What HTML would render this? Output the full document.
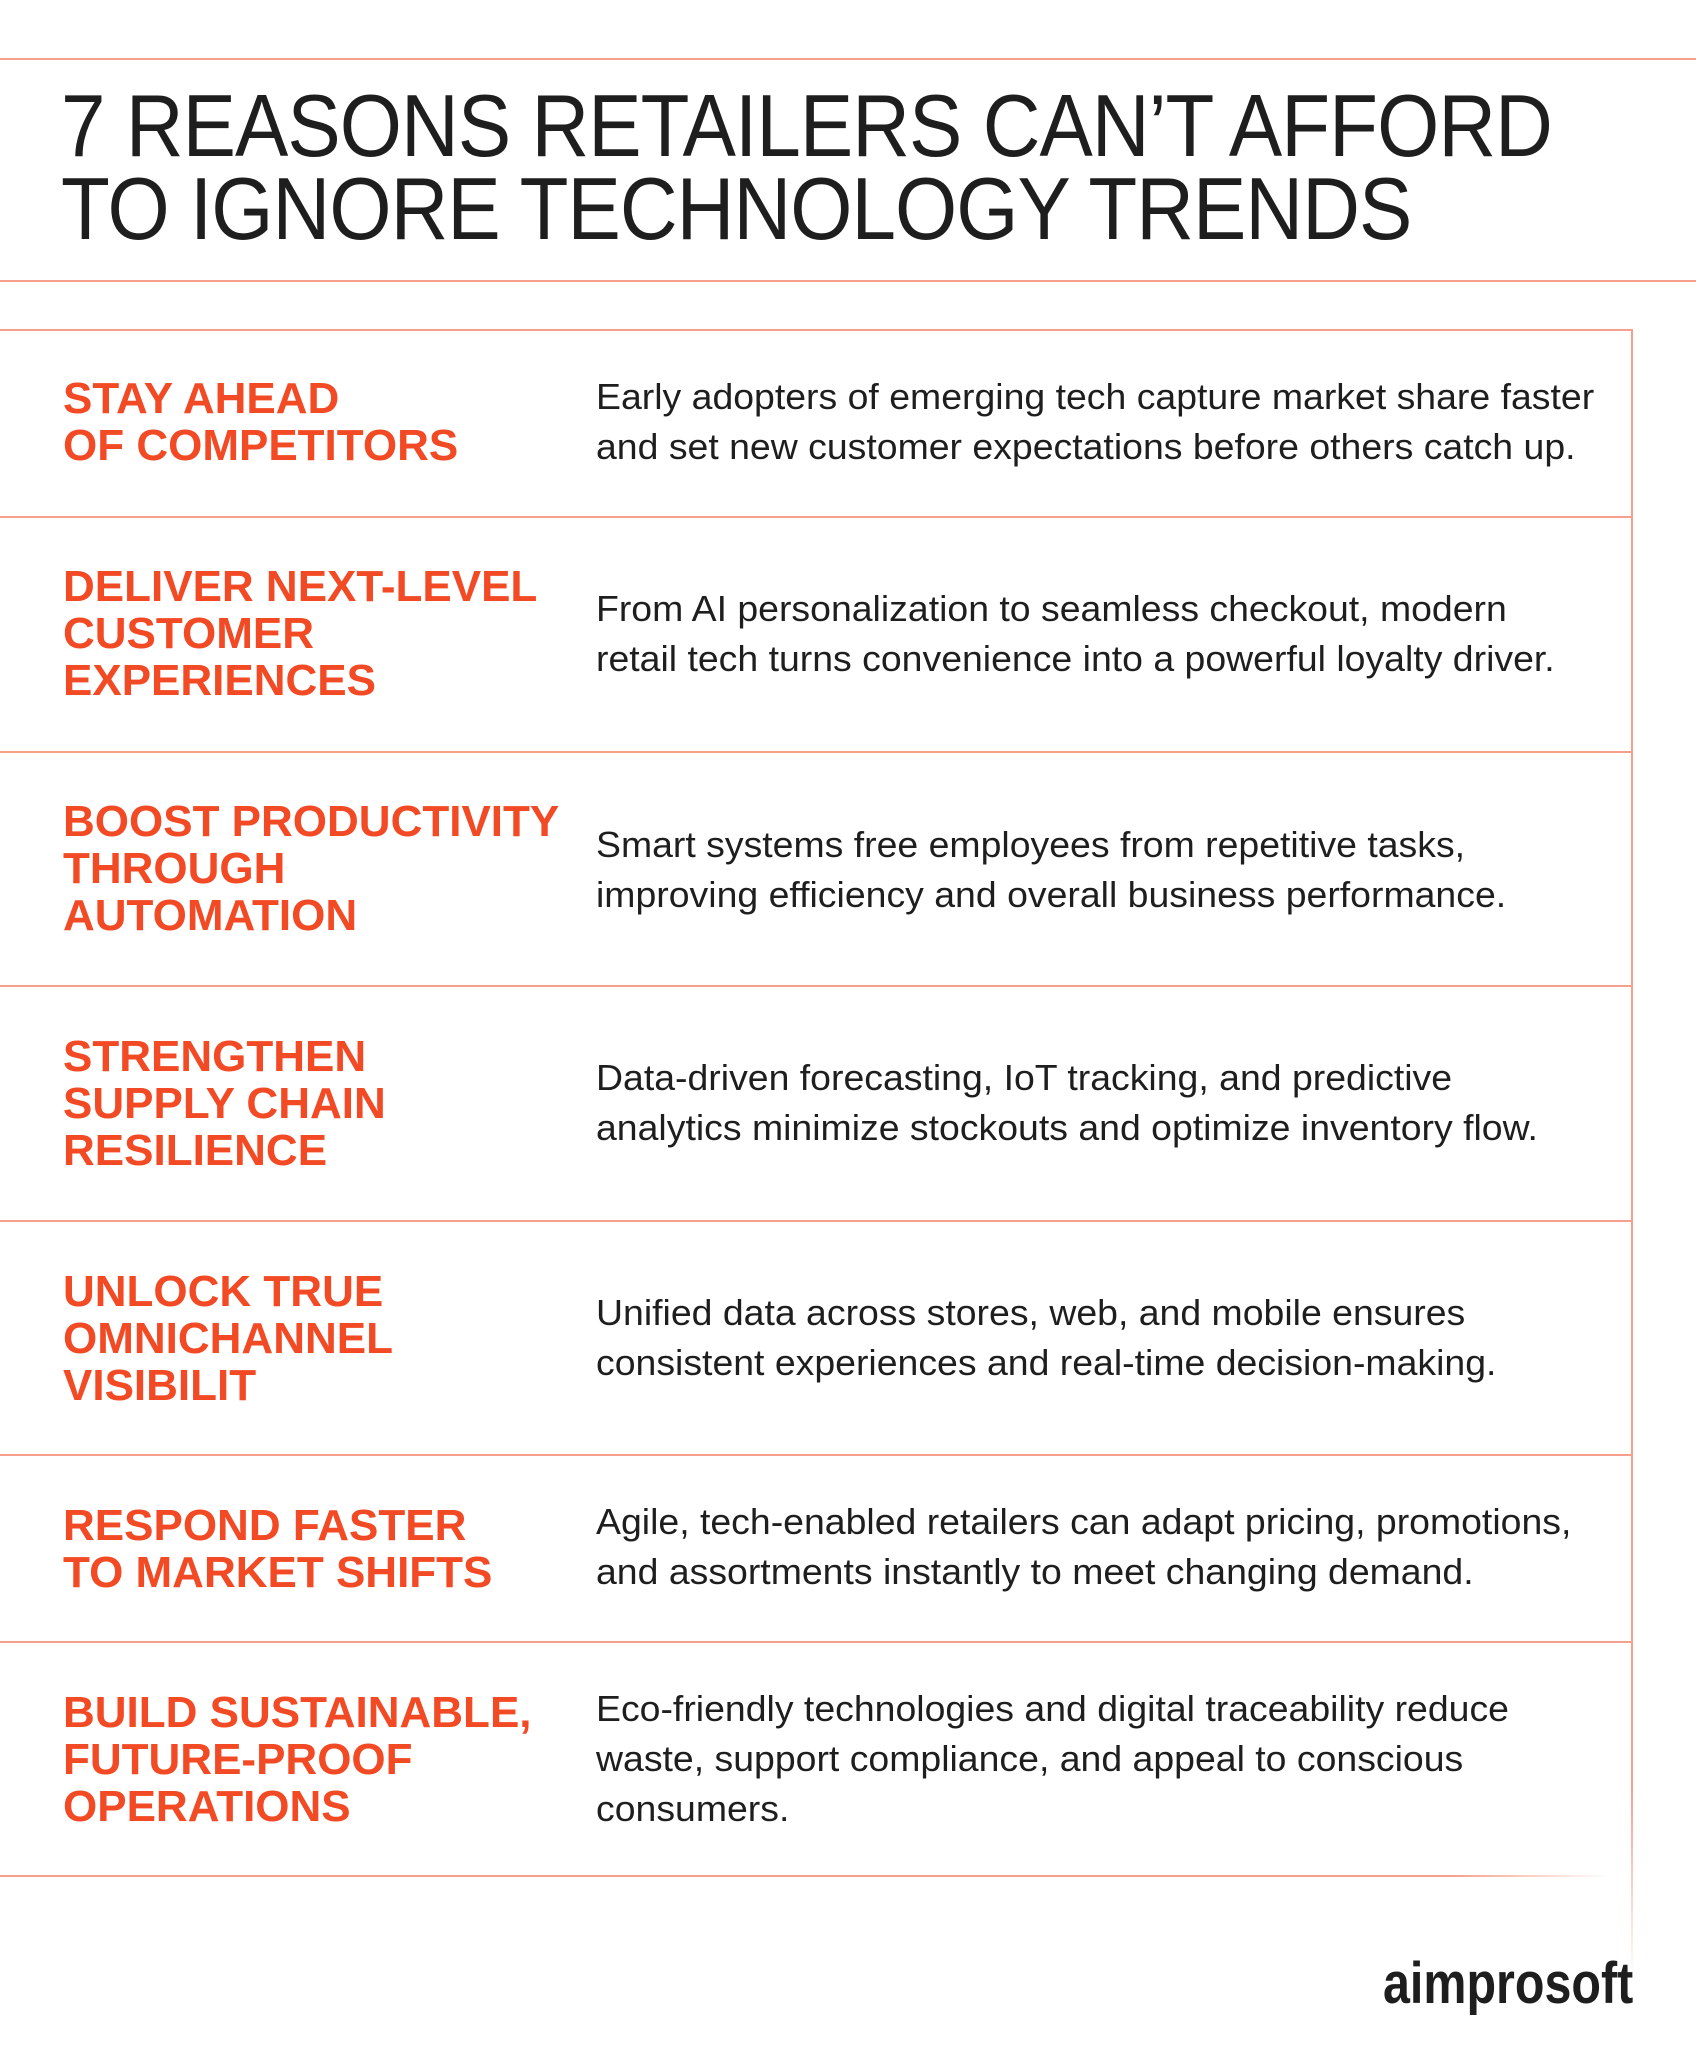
<!DOCTYPE html>
<html><head><meta charset="utf-8"><style>
body{margin:0;width:1696px;height:2063px;background:#fff;position:relative;overflow:hidden;font-family:"Liberation Sans",Arial,sans-serif}
.hl{position:absolute;left:0;height:2px;background:#f6a08c}
.title{position:absolute;left:61px;top:84px;font-size:88px;line-height:83px;color:#1e1e1e;letter-spacing:-1px;white-space:nowrap;transform:scaleX(0.908);transform-origin:left}
.h{position:absolute;left:63px;width:560px;color:#f24a24;font-weight:bold;font-size:44px;line-height:47px;white-space:nowrap}
.d{position:absolute;left:596px;color:#1e1e1e;font-size:36.5px;line-height:50px;white-space:nowrap;transform:scaleX(1.025);transform-origin:left}
.vr{position:absolute;left:1631px;top:330px;width:2px;height:1650px;background:linear-gradient(#f6a08c 0,#f6a08c 1460px,rgba(246,160,140,0) 1650px)}
.logo{position:absolute;left:1383px;top:1955px;font-size:58px;line-height:58px;font-weight:bold;color:#1e1e1e;transform:scaleX(0.835);transform-origin:left;white-space:nowrap}
</style></head><body>
<div class="hl" style="top:58px;width:1696px"></div>
<div class="title">7 REASONS RETAILERS CAN’T AFFORD<br>TO IGNORE TECHNOLOGY TRENDS</div>
<div class="hl" style="top:280px;width:1696px"></div>
<div class="hl" style="top:329px;width:1633px"></div>
<div class="hl" style="top:516px;width:1633px"></div>
<div class="hl" style="top:751px;width:1633px"></div>
<div class="hl" style="top:985px;width:1633px"></div>
<div class="hl" style="top:1220px;width:1633px"></div>
<div class="hl" style="top:1454px;width:1633px"></div>
<div class="hl" style="top:1641px;width:1633px"></div>
<div class="hl" style="top:1875px;width:1633px;background:linear-gradient(90deg,#f6a08c 0,#f6a08c 1450px,rgba(246,160,140,0) 1610px)"></div>
<div class="vr"></div>

<div class="h" style="top:375px">STAY AHEAD<br>OF COMPETITORS</div>
<div class="d" style="top:372px">Early adopters of emerging tech capture market share faster<br>and set new customer expectations before others catch up.</div>

<div class="h" style="top:563px">DELIVER NEXT-LEVEL<br>CUSTOMER<br>EXPERIENCES</div>
<div class="d" style="top:584px">From AI personalization to seamless checkout, modern<br>retail tech turns convenience into a powerful loyalty driver.</div>

<div class="h" style="top:798px">BOOST PRODUCTIVITY<br>THROUGH<br>AUTOMATION</div>
<div class="d" style="top:820px">Smart systems free employees from repetitive tasks,<br>improving efficiency and overall business performance.</div>

<div class="h" style="top:1033px">STRENGTHEN<br>SUPPLY CHAIN<br>RESILIENCE</div>
<div class="d" style="top:1053px">Data-driven forecasting, IoT tracking, and predictive<br>analytics minimize stockouts and optimize inventory flow.</div>

<div class="h" style="top:1268px">UNLOCK TRUE<br>OMNICHANNEL<br>VISIBILIT</div>
<div class="d" style="top:1288px">Unified data across stores, web, and mobile ensures<br>consistent experiences and real-time decision-making.</div>

<div class="h" style="top:1502px">RESPOND FASTER<br>TO MARKET SHIFTS</div>
<div class="d" style="top:1497px">Agile, tech-enabled retailers can adapt pricing, promotions,<br>and assortments instantly to meet changing demand.</div>

<div class="h" style="top:1689px">BUILD SUSTAINABLE,<br>FUTURE-PROOF<br>OPERATIONS</div>
<div class="d" style="top:1684px">Eco-friendly technologies and digital traceability reduce<br>waste, support compliance, and appeal to conscious<br>consumers.</div>

<div class="logo">aimprosoft</div>
</body></html>
